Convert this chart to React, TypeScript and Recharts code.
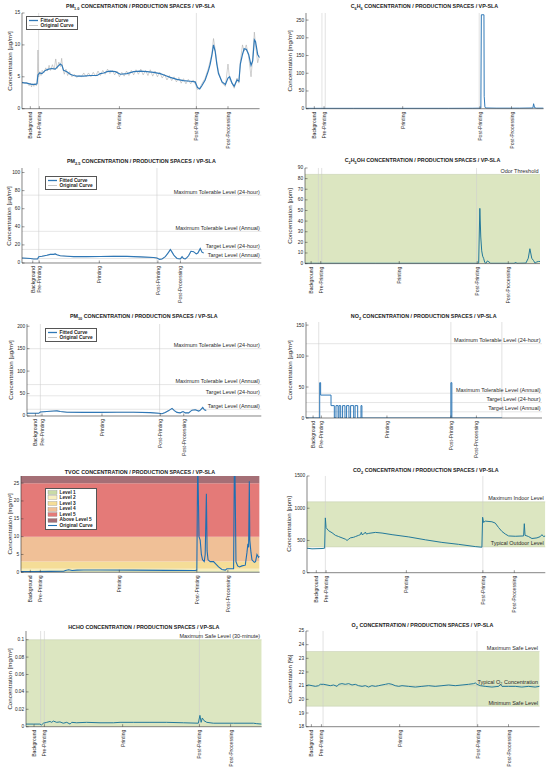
import React from "react";
import {
  LineChart,
  Line,
  XAxis,
  YAxis,
  ReferenceLine,
  ReferenceArea,
} from "recharts";

const FONT = '"Liberation Sans", Arial, Helvetica, sans-serif';
const PHASES = ["Background", "Pre-Printing", "Printing", "Post-Printing", "Post-Processing"];
const BLUE = "#2f78b7";
const TEAL = "#22789a";
const GRAY = "#a2a2a2";
const BAND = "#dce6c1";

type Pt = [number, number];

// time axis is in % of the measurement window
const PM1_PHASE_X = [3.5, 7.3, 41.0, 73.4, 86.7];
const PM1_FITTED: Pt[] = [
  [0, 4.1], [2.1, 4.0], [3.2, 3.9], [4.2, 3.8], [5.6, 3.8], [6.3, 3.9], [6.7, 5.3], [7.4, 5.6],
  [8.4, 5.5], [9.8, 6.0], [11.2, 6.2], [12.6, 6.3], [14.0, 6.2], [15.0, 6.6], [16.1, 7.0],
  [16.8, 6.8], [17.5, 6.0], [18.9, 5.8], [20.3, 5.4], [21.7, 5.2], [23.1, 5.1], [25.9, 5.1],
  [28.8, 5.2], [31.6, 5.2], [33.0, 5.5], [34.4, 5.6], [35.8, 5.8], [37.2, 5.9], [39.3, 5.8],
  [41.4, 5.4], [44.2, 5.5], [47.0, 5.8], [49.8, 5.9], [52.6, 5.8], [55.4, 5.7], [58.2, 5.5],
  [60.3, 5.2], [62.4, 4.9], [65.2, 4.6], [68.0, 4.4], [70.8, 4.3], [72.9, 4.2], [73.9, 3.3],
  [74.8, 3.1], [75.7, 3.6], [77.1, 4.5], [78.5, 6.0], [79.2, 7.0], [79.9, 8.3], [80.6, 10.0],
  [81.3, 9.0], [82.0, 7.0], [82.7, 5.5], [84.2, 4.2], [85.6, 3.8], [86.7, 4.8], [87.4, 5.0],
  [88.4, 4.0], [89.3, 3.5], [90.5, 4.5], [91.3, 4.3], [91.9, 7.0], [92.8, 8.5], [93.5, 9.4],
  [94.4, 9.3], [95.4, 8.5], [96.4, 6.8], [97.1, 7.5], [97.8, 10.8], [98.3, 10.5], [99.2, 8.5],
  [100, 8.0],
];
const PM1_ORIGINAL: Pt[] = [
  [0, 4.2], [1, 4.0], [2, 4.1], [3, 3.6], [3.5, 4.0], [4, 3.4], [4.5, 3.9], [5, 3.5], [5.5, 4.0],
  [6, 3.6], [6.4, 4.2], [6.7, 9.2], [7, 5.0], [7.5, 5.8], [8, 5.2], [8.5, 6.0], [9.2, 5.6],
  [10, 6.4], [10.7, 5.9], [11.4, 6.8], [12, 6.0], [12.8, 6.9], [13.5, 6.1], [14.2, 7.8],
  [14.8, 6.3], [15.5, 7.3], [16.2, 6.6], [16.7, 7.9], [17.2, 6.2], [17.8, 5.4], [18.5, 6.2],
  [19.2, 5.2], [20, 5.8], [21, 5.0], [22, 5.4], [23, 4.9], [24, 5.2], [25, 5.0], [26, 5.6],
  [27, 5.0], [28, 5.6], [29, 5.0], [30, 5.7], [31, 5.1], [32, 5.9], [33, 5.2], [34, 6.0],
  [35, 5.4], [36, 6.2], [37, 5.5], [38, 6.0], [39, 5.3], [40, 5.9], [41, 5.0], [42, 5.7],
  [43, 5.1], [44, 5.9], [45, 5.2], [46, 6.0], [47, 5.3], [48, 6.1], [49, 5.4], [50, 6.2],
  [51, 5.3], [52, 6.0], [53, 5.2], [54, 6.1], [55, 5.1], [56, 5.9], [57, 5.0], [58, 5.7],
  [59, 4.8], [60, 5.4], [61, 4.5], [62, 5.2], [63, 4.4], [64, 5.0], [65, 4.2], [66, 4.9],
  [67, 4.0], [68, 4.7], [69, 3.9], [70, 4.6], [71, 3.9], [72, 4.5], [73, 3.8], [73.9, 3.0],
  [74.8, 3.2], [75.7, 3.9], [77.1, 4.8], [78.5, 6.4], [79.9, 8.6], [80.6, 11.0], [81.3, 9.3],
  [82.0, 7.3], [82.7, 5.8], [84.2, 4.0], [85.6, 3.5], [86.7, 7.0], [87.4, 4.6], [88.4, 4.0],
  [89.3, 3.2], [90.5, 4.8], [91.3, 4.0], [91.9, 7.4], [92.8, 10.0], [93.5, 9.0], [94.4, 10.0],
  [95.4, 8.2], [96.4, 5.0], [97.1, 8.0], [97.8, 12.0], [98.3, 10.0], [99.2, 7.2], [100, 8.3],
];

const C6H6_PHASE_X = [3.5, 7.6, 40.7, 73.2, 86.5];
const C6H6_VALUES: Pt[] = [
  [0, 1], [20, 1], [40, 1], [60, 1], [70, 1.2], [73.6, 1.5], [73.8, 265], [74.9, 265],
  [75.0, 35], [75.3, 5], [75.6, 2], [80, 1.5], [90, 1.5], [95.5, 2], [95.8, 14], [96.2, 3],
  [97, 1.5], [100, 1.5],
];

const PM25_PHASE_X = [4.5, 7.2, 32.3, 56.8, 66.2];
const PM25_VALUES: Pt[] = [
  [0, 5.5], [3.5, 5.0], [4.9, 4.5], [6.5, 4.5], [7.0, 7.0], [8.4, 7.5], [10.4, 8.5], [11.8, 9.5],
  [13.2, 9.5], [13.9, 10], [14.6, 9.0], [16.0, 8.0], [18.8, 7.5], [21.6, 7.0], [27.2, 7.0],
  [32.7, 7.2], [38.3, 7.5], [43.9, 7.3], [49.4, 6.8], [55.0, 6.0], [56.4, 5.5], [57.5, 4.0],
  [58.5, 4.5], [59.9, 7.0], [61.3, 12], [62.0, 15], [62.7, 12], [63.6, 8], [64.8, 5],
  [66.2, 4.5], [66.9, 7], [67.5, 5], [68.2, 4.5], [68.9, 6], [69.6, 8], [70.6, 13],
  [71.7, 12.5], [72.8, 10], [73.5, 11], [74.5, 16], [75.2, 12], [75.9, 11],
];

const C2H5OH_PHASE_X = [2.6, 6.7, 40.1, 73.3, 86.5];
const C2H5OH_VALUES: Pt[] = [
  [0, 0.3], [30, 0.3], [60, 0.3], [73.9, 0.3], [74.4, 52], [74.8, 25], [75.2, 12], [75.6, 7],
  [76.0, 5], [76.5, 1], [77.0, 0.3], [77.6, 2.5], [78.3, 1.5], [79, 0.3], [89.2, 0.3],
  [89.6, 1.5], [90.1, 0.3], [94, 0.5], [95.0, 5], [95.7, 14], [96.5, 5], [97.2, 3],
  [97.9, 0.5], [98.6, 1.5], [99.3, 2], [100, 2],
];

const PM10_PHASE_X = [3.6, 6.4, 32.0, 56.9, 66.9];
const PM10_VALUES: Pt[] = [
  [0, 6], [5.0, 6], [5.7, 9], [8.5, 10], [11.4, 11], [12.8, 11.5], [14.2, 10], [17.1, 8.5],
  [24.2, 8], [31.3, 8], [38.4, 8.5], [45.5, 8.5], [52.6, 7.5], [56.2, 6], [57.6, 5], [59.0, 8],
  [60.5, 12], [61.9, 17], [62.9, 12], [64.0, 8], [65.4, 7], [66.6, 10], [67.6, 7], [69.0, 7],
  [70.4, 13], [71.8, 14], [73.3, 11], [74.0, 13], [75.0, 19], [75.7, 14], [76.5, 12],
];

const NO2_PHASE_X = [3.0, 6.5, 34.3, 61.4, 72.2];
const NO2_VALUES: Pt[] = [
  [0, 0], [5.8, 57], [6.2, 37], [10.6, 20], [12.0, 0], [12.7, 20], [13.6, 0], [14.0, 20],
  [14.7, 0], [15.5, 20], [16.5, 0], [17.2, 20], [18.2, 0], [18.9, 20], [20.2, 0], [20.8, 20],
  [21.9, 0], [23.3, 20], [23.7, 0], [61.4, 57], [61.8, 0], [83, 0],
];

const TVOC_PHASE_X = [3.9, 8.1, 41.2, 73.7, 86.7];
const TVOC_VALUES: Pt[] = [
  [0, 0.2], [5.3, 0.2], [12.3, 0.25], [17.9, 0.3], [18.6, 0.5], [20.0, 0.7], [21.4, 0.5],
  [23.5, 0.6], [26.3, 0.65], [33.2, 0.65], [47.2, 0.6], [61.2, 0.55], [73.0, 0.5], [73.7, 0.6],
  [74.0, 27], [74.2, 27], [74.6, 10], [75.1, 9], [75.6, 5], [76.1, 3.5], [76.8, 3], [77.2, 5],
  [77.7, 22], [78.0, 6], [78.4, 3.5], [79.3, 3], [80.7, 3], [81.4, 2.5], [82.8, 1.5],
  [84.2, 0.8], [85.6, 0.6], [86.3, 1.0], [89.1, 1.0], [89.4, 27], [89.7, 27], [90.1, 3],
  [90.8, 1.8], [91.6, 1.5], [92.6, 1.8], [94.0, 2], [94.7, 5.5], [95.1, 8], [95.4, 7],
  [95.7, 25.5], [95.9, 9], [96.4, 5.5], [96.8, 3.5], [97.8, 2.8], [98.3, 3], [98.9, 5],
  [99.6, 4.2], [100, 4.5],
];
const TVOC_LEVELS = [0, 0.3, 1, 3, 10, 25, 27];
const TVOC_LEVEL_NAMES = ["Level 1", "Level 2", "Level 3", "Level 4", "Level 5", "Above Level 5"];
const TVOC_LEVEL_COLORS = ["#c9dba6", "#f7efbf", "#f5dd97", "#f0c097", "#e47a78", "#a56f76"];

const CO2_PHASE_X = [3.9, 8.0, 41.7, 73.8, 87.0];
const CO2_VALUES: Pt[] = [
  [0, 380], [2.1, 370], [6.3, 375], [7.4, 380], [7.7, 850], [8.0, 700], [8.4, 680], [9.1, 650],
  [10.5, 620], [11.9, 580], [13.3, 560], [14.7, 540], [16.1, 520], [16.8, 500], [17.5, 520],
  [18.2, 540], [19.6, 550], [20.3, 560], [21.7, 580], [22.4, 590], [22.8, 625], [23.1, 590],
  [23.8, 600], [24.5, 630], [24.9, 600], [25.9, 610], [28.7, 625], [31.5, 615], [35.7, 590],
  [42.7, 555], [49.7, 510], [56.6, 470], [63.6, 440], [70.6, 405], [73.4, 395], [73.7, 860],
  [74.1, 780], [74.8, 800], [77.6, 790], [79.0, 770], [80.4, 700], [81.8, 640], [83.2, 600],
  [84.6, 570], [87.4, 565], [90.9, 570], [91.2, 760], [91.5, 580], [92.3, 570], [93.0, 560],
  [94.4, 530], [96.5, 540], [97.9, 560], [98.6, 590], [99.3, 560], [100, 570],
];

const HCHO_PHASE_X = [3.4, 7.8, 41.0, 73.6, 86.8];
const HCHO_VALUES: Pt[] = [
  [0, 0.003], [3.1, 0.003], [5.9, 0.003], [6.6, 0.002], [7.4, 0.004], [8.8, 0.005],
  [10.2, 0.006], [10.9, 0.005], [11.6, 0.0065], [13.0, 0.005], [14.4, 0.0055], [15.8, 0.004],
  [17.3, 0.005], [18.7, 0.003], [19.4, 0.005], [21.5, 0.0045], [25.7, 0.005], [31.4, 0.0045],
  [37.1, 0.0045], [39.9, 0.005], [45.5, 0.005], [52.6, 0.005], [59.7, 0.005], [66.8, 0.0045],
  [73.1, 0.004], [73.8, 0.013], [74.3, 0.005], [74.8, 0.01], [75.5, 0.007], [76.7, 0.005],
  [79.5, 0.004], [88.0, 0.004], [96.5, 0.004], [97.9, 0.0035], [100, 0.003],
];

const O2_PHASE_X = [2.3, 6.6, 40.1, 73.5, 86.7];
const O2_VALUES: Pt[] = [
  [0, 21.0], [1.1, 21.05], [2.6, 21.0], [4.0, 20.95], [5.4, 21.0], [6.1, 21.1], [7.6, 21.1],
  [9.0, 21.05], [10.4, 21.0], [11.8, 21.05], [13.3, 20.95], [14.0, 21.1], [15.4, 21.15],
  [16.8, 21.1], [18.3, 21.15], [19.7, 21.05], [21.1, 21.1], [22.5, 21.0], [24.0, 20.95],
  [25.4, 21.0], [26.8, 20.9], [28.2, 21.0], [29.7, 20.95], [31.1, 21.0], [32.5, 21.05],
  [34.0, 21.1], [35.4, 21.15], [36.8, 21.1], [38.2, 21.0], [39.7, 20.95], [41.1, 21.0],
  [43.9, 20.95], [46.8, 20.9], [49.6, 20.95], [52.5, 21.0], [55.3, 20.95], [58.2, 21.0],
  [61.1, 21.05], [63.9, 21.0], [66.8, 21.05], [69.6, 21.1], [71.8, 21.15], [72.5, 21.2],
  [73.2, 21.1], [74.6, 21.0], [76.7, 20.95], [79.6, 20.9], [82.5, 20.95], [83.2, 21.1],
  [83.9, 20.95], [86.7, 20.95], [89.6, 20.95], [92.4, 20.9], [95.3, 20.95], [98.1, 20.9],
  [100, 20.95],
];

const PM25_LIMITS = [75, 35, 15, 5];
const PM10_LIMITS = [150, 70, 45, 15];
const NO2_LIMITS = [120, 40, 25, 10];
const LIMIT_NAMES = [
  "Maximum Tolerable Level (24-hour)",
  "Maximum Tolerable Level (Annual)",
  "Target Level (24-hour)",
  "Target Level (Annual)",
];

const pts = (a: Pt[]) => a.map(([x, y]) => ({ x, y }));

type Band = { y1: number; y2: number; fill: string };
type Ref = { y: number; label?: string; stroke?: string };
type Series = { data: Pt[]; color: string; width: number; step?: boolean };
type LegendItem = { label: string; color: string; kind: "line" | "box"; width?: number };

type PanelProps = {
  box: [number, number, number, number];
  title: React.ReactNode;
  titleY: number;
  yLabel: string;
  yLabelX: number;
  yDomain: [number, number];
  yTicks: number[];
  yFmt?: (v: number) => string;
  phaseX: number[];
  vlines?: number[];
  bands?: Band[];
  refs?: Ref[];
  series: Series[];
  legend?: { left: number; top: number; items: LegendItem[] };
};

const limitRefs = (vals: number[]): Ref[] => vals.map((y, i) => ({ y, label: LIMIT_NAMES[i] }));

function LegendBox({ left, top, items }: { left: number; top: number; items: LegendItem[] }) {
  return (
    <div
      style={{
        position: "absolute",
        left,
        top,
        border: "0.6px solid #555",
        background: "#fff",
        padding: "0.5px 3px 0.5px 1px",
        fontFamily: FONT,
        fontSize: 4.8,
        fontWeight: 700,
        lineHeight: "5.6px",
        color: "#222",
      }}
    >
      {items.map((it) => (
        <div key={it.label} style={{ display: "flex", alignItems: "center", whiteSpace: "nowrap" }}>
          <svg width={11} height={5} style={{ marginRight: 1.5 }}>
            {it.kind === "line" ? (
              <line x1={1} x2={10} y1={2.5} y2={2.5} stroke={it.color} strokeWidth={it.width ?? 1} />
            ) : (
              <rect x={1} y={0.6} width={9} height={3.8} fill={it.color} stroke="#777" strokeWidth={0.3} />
            )}
          </svg>
          <span>{it.label}</span>
        </div>
      ))}
    </div>
  );
}

function Panel(p: PanelProps) {
  const [L, T, R, B] = p.box;
  const mt = 6;
  const mr = 6;
  const yw = 30;
  const xh = 48;
  const w = R - L + yw + mr;
  const h = B - T + mt + xh;
  const fmt = p.yFmt ?? ((v: number) => String(v));

  const xTick = (props: any) => {
    const { x, y, payload } = props;
    const i = p.phaseX.indexOf(payload.value);
    return (
      <g>
        <line x1={x} x2={x} y1={y} y2={y - 2.5} stroke="#333" strokeWidth={0.5} />
        <text
          x={x}
          y={y + 3}
          transform={`rotate(-90 ${x} ${y + 3})`}
          textAnchor="end"
          dominantBaseline="central"
          fontSize={5.1}
          fill="#262626"
          fontFamily={FONT}
        >
          {PHASES[i]}
        </text>
      </g>
    );
  };

  const yTick = (props: any) => {
    const { x, y, payload } = props;
    return (
      <g>
        <line x1={x} x2={x + 2.5} y1={y} y2={y} stroke="#333" strokeWidth={0.5} />
        <text
          x={x - 1.8}
          y={y}
          textAnchor="end"
          dominantBaseline="central"
          fontSize={4.8}
          fill="#262626"
          fontFamily={FONT}
        >
          {fmt(payload.value)}
        </text>
      </g>
    );
  };

  return (
    <>
      <div style={{ position: "absolute", left: L - yw, top: T - mt, width: w, height: h }}>
        <LineChart width={w} height={h} margin={{ top: mt, right: mr, bottom: 0, left: 0 }}>
          {(p.bands ?? []).map((b, i) => (
            <ReferenceArea
              key={"b" + i}
              y1={b.y1}
              y2={b.y2}
              fill={b.fill}
              fillOpacity={1}
              stroke="none"
              ifOverflow="hidden"
            />
          ))}
          {(p.vlines ?? []).map((v, i) => (
            <ReferenceLine key={"v" + i} x={v} stroke="#cfcfcf" strokeWidth={0.6} />
          ))}
          <XAxis
            type="number"
            dataKey="x"
            domain={[0, 100]}
            ticks={p.phaseX}
            interval={0}
            tick={xTick}
            tickSize={0}
            tickMargin={0}
            tickLine={false}
            height={xh}
            axisLine={{ stroke: "#333", strokeWidth: 0.6 }}
            allowDataOverflow
          />
          <YAxis
            type="number"
            domain={p.yDomain}
            ticks={p.yTicks}
            interval={0}
            tick={yTick}
            tickSize={0}
            tickMargin={0}
            tickLine={false}
            width={yw}
            axisLine={{ stroke: "#333", strokeWidth: 0.6 }}
            allowDataOverflow
          />
          {(p.refs ?? []).map((r, i) => (
            <ReferenceLine
              key={"r" + i}
              y={r.y}
              stroke={r.stroke ?? "#cdcdcd"}
              strokeWidth={0.5}
              label={
                r.label
                  ? {
                      value: r.label,
                      position: "insideBottomRight",
                      offset: 1.5,
                      fontSize: 5.5,
                      fill: "#2a2a2a",
                      fontFamily: FONT,
                    }
                  : undefined
              }
            />
          ))}
          {p.series.map((s, i) => (
            <Line
              key={"s" + i}
              data={pts(s.data)}
              dataKey="y"
              type={s.step ? "stepAfter" : "linear"}
              stroke={s.color}
              strokeWidth={s.width}
              dot={false}
              activeDot={false}
              isAnimationActive={false}
            />
          ))}
        </LineChart>
      </div>
      <div
        style={{
          position: "absolute",
          left: L,
          width: R - L,
          top: p.titleY - 4,
          height: 8,
          lineHeight: "8px",
          textAlign: "center",
          fontFamily: FONT,
          fontSize: 5.35,
          fontWeight: 700,
          color: "#222",
          whiteSpace: "nowrap",
        }}
      >
        {p.title}
      </div>
      <div
        style={{
          position: "absolute",
          left: p.yLabelX,
          top: (T + B) / 2,
          transform: "translate(-50%, -50%) rotate(-90deg)",
          fontFamily: FONT,
          fontSize: 6.2,
          color: "#222",
          whiteSpace: "nowrap",
          lineHeight: 1,
        }}
      >
        {p.yLabel}
      </div>
      {p.legend && <LegendBox {...p.legend} />}
    </>
  );
}

const sub = (t: string) => <sub style={{ fontSize: "0.72em", lineHeight: 0 }}>{t}</sub>;
const TAIL = " CONCENTRATION / PRODUCTION SPACES / VP-SLA";

const PM_LEGEND: LegendItem[] = [
  { label: "Fitted Curve", color: BLUE, kind: "line", width: 1.3 },
  { label: "Original Curve", color: GRAY, kind: "line", width: 0.6 },
];

const PANELS: PanelProps[] = [
  {
    box: [21.7, 13.3, 259.3, 109],
    title: <>PM{sub("1.0")}{TAIL}</>,
    titleY: 6,
    yLabel: "Concentration [µg/m³]",
    yLabelX: 10,
    yDomain: [0, 15],
    yTicks: [0, 5, 10, 15],
    phaseX: PM1_PHASE_X,
    vlines: [7.0, 73.4],
    series: [
      { data: PM1_ORIGINAL, color: GRAY, width: 0.5 },
      { data: PM1_FITTED, color: BLUE, width: 1.2 },
    ],
    legend: { left: 26, top: 16, items: PM_LEGEND },
  },
  {
    box: [305.7, 13.3, 543.3, 109],
    title: <>C{sub("6")}H{sub("6")}{TAIL}</>,
    titleY: 6,
    yLabel: "Concentration [mg/m³]",
    yLabelX: 290,
    yDomain: [0, 270],
    yTicks: [0, 50, 100, 150, 200, 250],
    phaseX: C6H6_PHASE_X,
    vlines: [6.7, 8.1, 72.9],
    series: [{ data: C6H6_VALUES, color: BLUE, width: 1 }],
  },
  {
    box: [21.7, 168.3, 261, 263.3],
    title: <>PM{sub("2.5")}{TAIL}</>,
    titleY: 161,
    yLabel: "Concentration [µg/m³]",
    yLabelX: 8.5,
    yDomain: [0, 105],
    yTicks: [0, 20, 40, 60, 80, 100],
    phaseX: PM25_PHASE_X,
    vlines: [7.0, 56.4],
    refs: limitRefs(PM25_LIMITS),
    series: [
      { data: PM25_VALUES, color: GRAY, width: 0.5 },
      { data: PM25_VALUES, color: BLUE, width: 1.1 },
    ],
    legend: { left: 45, top: 176, items: PM_LEGEND },
  },
  {
    box: [305, 167.7, 540, 263.3],
    title: <>C{sub("2")}H{sub("5")}OH{TAIL}</>,
    titleY: 160,
    yLabel: "Concentration [ppm]",
    yLabelX: 290,
    yDomain: [0, 90],
    yTicks: [0, 10, 20, 30, 40, 50, 60, 70, 80, 90],
    phaseX: C2H5OH_PHASE_X,
    bands: [{ y1: 0, y2: 84, fill: BAND }],
    vlines: [5.7, 7.1, 73.0],
    refs: [{ y: 84, label: "Odor Threshold", stroke: "#c5cdb0" }],
    series: [{ data: C2H5OH_VALUES, color: TEAL, width: 1 }],
  },
  {
    box: [26.7, 324.3, 261, 416.3],
    title: <>PM{sub("10")}{TAIL}</>,
    titleY: 316,
    yLabel: "Concentration [µg/m³]",
    yLabelX: 11,
    yDomain: [0, 205],
    yTicks: [0, 50, 100, 150, 200],
    phaseX: PM10_PHASE_X,
    vlines: [5.7, 56.6],
    refs: limitRefs(PM10_LIMITS),
    series: [
      { data: PM10_VALUES, color: GRAY, width: 0.5 },
      { data: PM10_VALUES, color: BLUE, width: 1.1 },
    ],
    legend: { left: 45, top: 328, items: PM_LEGEND },
  },
  {
    box: [305.7, 321.7, 541.7, 417.7],
    title: <>NO{sub("2")}{TAIL}</>,
    titleY: 316,
    yLabel: "Concentration [µg/m³]",
    yLabelX: 290,
    yDomain: [0, 155],
    yTicks: [0, 50, 100, 150],
    phaseX: NO2_PHASE_X,
    vlines: [5.4, 61.4, 83],
    refs: limitRefs(NO2_LIMITS),
    series: [{ data: NO2_VALUES, color: BLUE, width: 1, step: true }],
  },
  {
    box: [20.7, 476, 259.3, 572.3],
    title: <>TVOC{TAIL}</>,
    titleY: 472,
    yLabel: "Concentration [mg/m³]",
    yLabelX: 10,
    yDomain: [0, 27],
    yTicks: [0, 5, 10, 15, 20, 25],
    phaseX: TVOC_PHASE_X,
    bands: TVOC_LEVEL_COLORS.map((fill, i) => ({
      y1: TVOC_LEVELS[i],
      y2: TVOC_LEVELS[i + 1],
      fill,
    })),
    series: [{ data: TVOC_VALUES, color: "#1f6fb2", width: 1.1 }],
    legend: {
      left: 45,
      top: 488,
      items: [
        ...TVOC_LEVEL_NAMES.map((label, i) => ({
          label,
          color: TVOC_LEVEL_COLORS[i],
          kind: "box" as const,
        })),
        { label: "Original Curve", color: "#1f6fb2", kind: "line" as const, width: 1.1 },
      ],
    },
  },
  {
    box: [306.7, 476, 545, 572.7],
    title: <>CO{sub("2")}{TAIL}</>,
    titleY: 470,
    yLabel: "Concentration [ppm]",
    yLabelX: 289,
    yDomain: [0, 1500],
    yTicks: [0, 500, 1000, 1500],
    phaseX: CO2_PHASE_X,
    bands: [{ y1: 400, y2: 1100, fill: BAND }],
    vlines: [7.7, 73.8],
    refs: [
      { y: 1100, label: "Maximum Indoor Level", stroke: "#c5cdb0" },
      { y: 400, label: "Typical Outdoor Level", stroke: "#c5cdb0" },
    ],
    series: [{ data: CO2_VALUES, color: TEAL, width: 1 }],
  },
  {
    box: [26, 631, 261.7, 726.7],
    title: <>HCHO{TAIL}</>,
    titleY: 627,
    yLabel: "Concentration [mg/m³]",
    yLabelX: 9.5,
    yDomain: [0, 0.11],
    yTicks: [0, 0.02, 0.04, 0.06, 0.08, 0.1],
    yFmt: (v) => (v === 0 ? "0" : String(Number(v.toFixed(2)))),
    phaseX: HCHO_PHASE_X,
    bands: [{ y1: 0, y2: 0.1, fill: BAND }],
    vlines: [6.2, 7.8, 73.6],
    refs: [{ y: 0.1, label: "Maximum Safe Level (30-minute)", stroke: "#c5cdb0" }],
    series: [{ data: HCHO_VALUES, color: TEAL, width: 1 }],
  },
  {
    box: [305.7, 631, 539.3, 726.7],
    title: <>O{sub("2")}{TAIL}</>,
    titleY: 625,
    yLabel: "Concentration [%]",
    yLabelX: 290,
    yDomain: [18, 25],
    yTicks: [18, 19, 20, 21, 22, 23, 24, 25],
    phaseX: O2_PHASE_X,
    bands: [{ y1: 19.5, y2: 23.5, fill: BAND }],
    vlines: [7.3, 73.2],
    refs: [
      { y: 23.5, label: "Maximum Safe Level", stroke: "#c5cdb0" },
      { y: 21, label: "Typical O₂ Concentration", stroke: "#c5cdb0" },
      { y: 19.5, label: "Minimum Safe Level", stroke: "#c5cdb0" },
    ],
    series: [{ data: O2_VALUES, color: TEAL, width: 1 }],
  },
];

export default function App() {
  return (
    <div
      style={{
        position: "absolute",
        left: 0,
        top: 0,
        width: 550,
        height: 775,
        background: "#fff",
        overflow: "hidden",
      }}
    >
      {PANELS.map((p, i) => (
        <Panel key={i} {...p} />
      ))}
    </div>
  );
}
